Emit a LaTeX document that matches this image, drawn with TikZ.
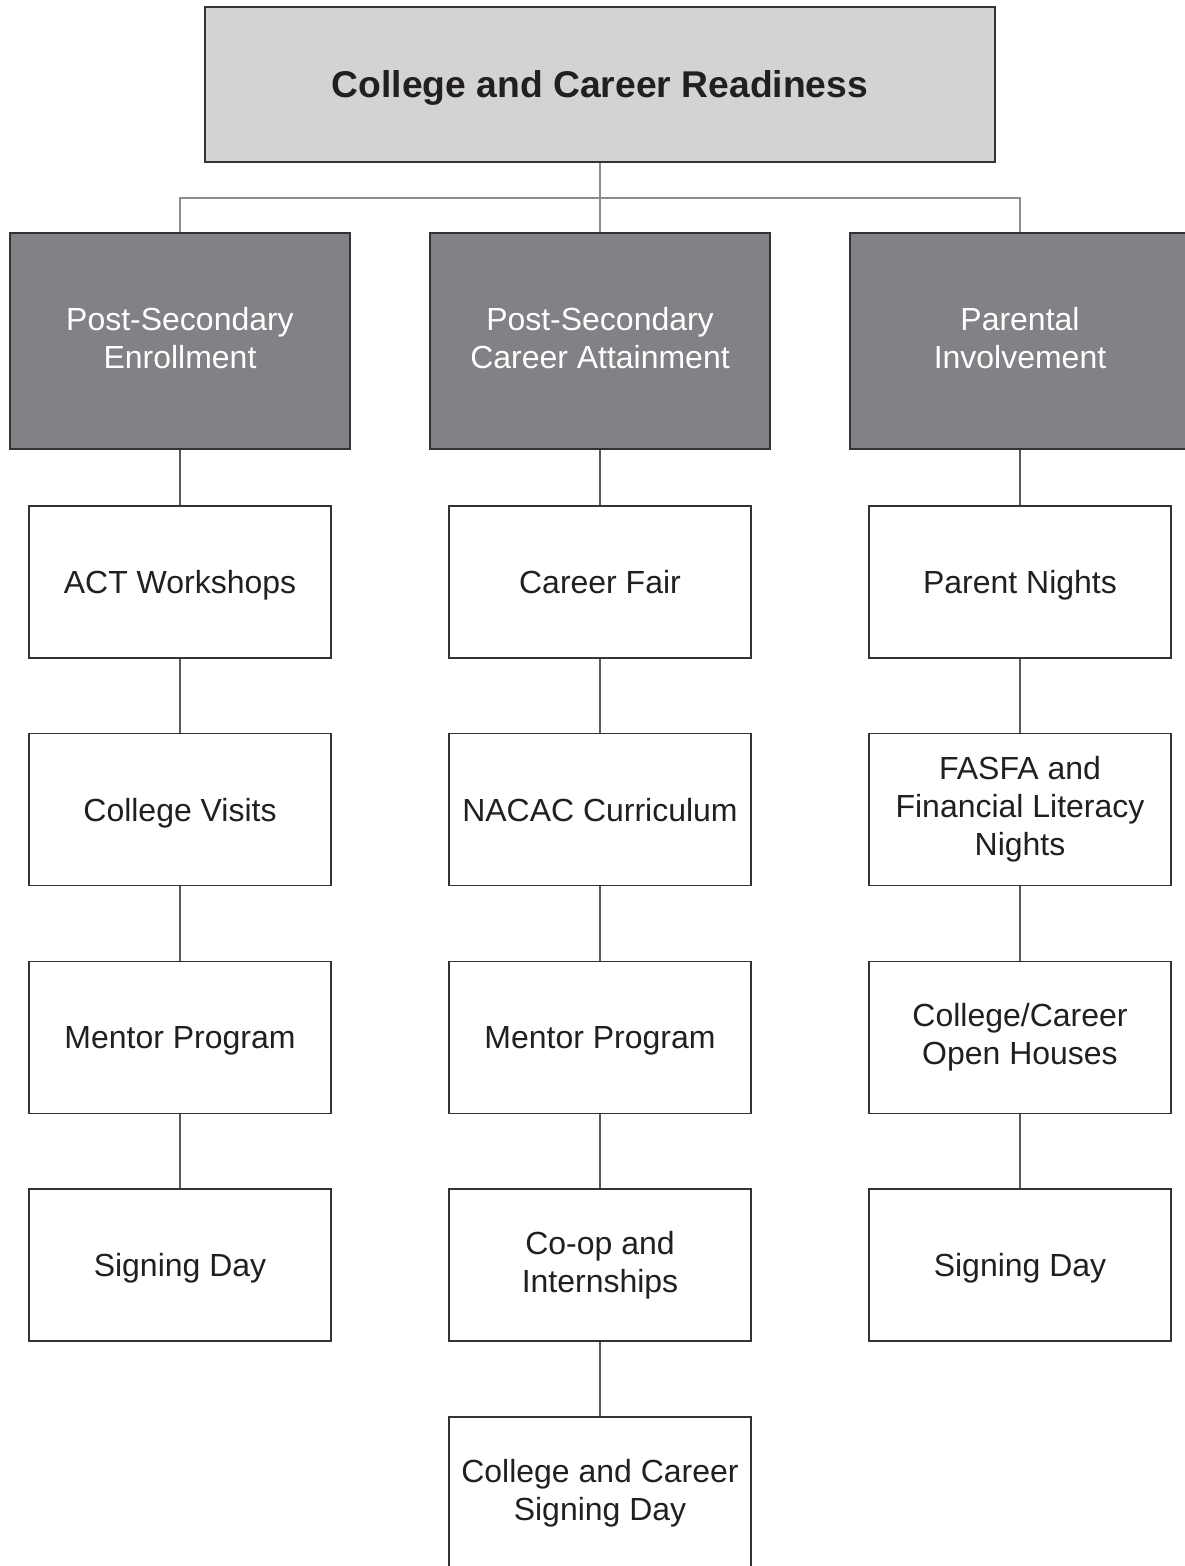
\documentclass[tikz,border=0pt]{standalone}
\usepackage{fontspec}
\setmainfont{Liberation Sans}
\usetikzlibrary{calc, positioning}
\definecolor{topgray}{HTML}{D1D3D4}
\definecolor{headgray}{HTML}{808285}
\definecolor{boxline}{HTML}{333333}
\definecolor{linkgray}{HTML}{58595B}
\definecolor{busgray}{HTML}{8C8C8C}
\definecolor{ink}{HTML}{231F20}
\newcommand\capstrut{\rule[-0.2em]{0pt}{1.12em}}

\begin{document}
\begin{tikzpicture}[
    x=0.02cm, y=-0.02cm,
    % Styles
    base/.style={draw=boxline, line width=0.03cm, inner sep=0pt, align=center,
      execute at begin node=\capstrut, execute at end node=\capstrut,
      font=\fontsize{18.2pt}{21.6pt}\selectfont},
    goal/.style={base, fill=topgray, text=ink, minimum width=15.8cm, minimum height=3.1cm, font=\fontsize{21.2pt}{25pt}\selectfont\bfseries},
    area/.style={base, fill=headgray, text=white, minimum width=6.8cm, minimum height=4.32cm},
    item/.style={base, fill=white, text=ink, minimum width=6.04cm, minimum height=3.04cm},
    bus/.style={draw=busgray, line width=0.03cm},
    link/.style={draw=linkgray, line width=0.03cm},
    node distance=1.485cm
  ]

  % 0) Page frame
  \useasboundingbox (0,0) rectangle (1184,1566);

  % 1) Top goal
  \node[goal] (goal) at (600,84.5) {College and Career Readiness};

  % 2) Three focus areas
  \node[area] (enroll) at (180,341)  {Post-Secondary\\Enrollment};
  \node[area] (career) at (600,341)  {Post-Secondary\\Career Attainment};
  \node[area] (parent) at (1020,341) {Parental\\Involvement};

  % 3) Enrollment column
  \node[item, below=1.11cm of enroll] (e1) {ACT Workshops};
  \node[item, below=of e1] (e2) {College Visits};
  \node[item, below=of e2] (e3) {Mentor Program};
  \node[item, below=of e3] (e4) {Signing Day};

  % 4) Career column
  \node[item, below=1.11cm of career] (c1) {Career Fair};
  \node[item, below=of c1] (c2) {NACAC Curriculum};
  \node[item, below=of c2] (c3) {Mentor Program};
  \node[item, below=of c3] (c4) {Co-op and\\Internships};
  \node[item, below=of c4] (c5) {College and Career\\Signing Day};

  % 5) Parent column
  \node[item, below=1.11cm of parent] (p1) {Parent Nights};
  \node[item, below=of p1] (p2) {FASFA and\\Financial Literacy\\Nights};
  \node[item, below=of p2] (p3) {College/Career\\Open Houses};
  \node[item, below=of p3] (p4) {Signing Day};

  % 6) Links
  \coordinate (bus) at (600,198);
  \draw[bus] (goal) -- (bus);
  \draw[bus] (bus) -| (enroll);
  \draw[bus] (bus) -- (career);
  \draw[bus] (bus) -| (parent);

  \draw[link] (enroll) -- (e1) -- (e2) -- (e3) -- (e4);
  \draw[link] (career) -- (c1) -- (c2) -- (c3) -- (c4) -- (c5);
  \draw[link] (parent) -- (p1) -- (p2) -- (p3) -- (p4);
\end{tikzpicture}
\end{document}
